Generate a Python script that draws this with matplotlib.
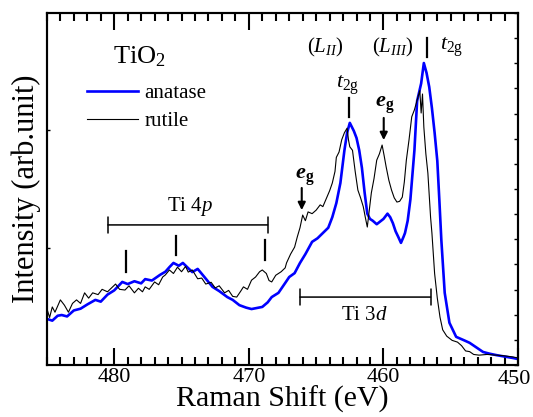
import matplotlib
matplotlib.use("Agg")
import matplotlib.pyplot as plt
from matplotlib.ticker import MultipleLocator, FixedLocator, FixedFormatter
import numpy as np

plt.rcParams["font.family"] = ["Liberation Serif", "DejaVu Serif"]
plt.rcParams["mathtext.fontset"] = "custom"
plt.rcParams["mathtext.rm"] = "Liberation Serif"
plt.rcParams["mathtext.it"] = "Liberation Serif:italic"
plt.rcParams["mathtext.bf"] = "Liberation Serif:bold"
plt.rcParams["mathtext.bfit"] = "Liberation Serif:italic:bold"

# anatase spectrum (eV, arb. intensity)
anatase_ev = [485.0, 484.6, 484.2, 483.9, 483.5, 483.0, 482.5, 482.0, 481.4, 481.0,
              480.5, 480.0, 479.4, 479.0, 478.5, 478.0, 477.7, 477.2, 476.6, 476.2,
              475.9, 475.6, 475.2, 474.9, 474.5, 474.2, 473.8, 473.3, 472.7, 472.2,
              471.6, 471.2, 470.7, 470.2, 469.8, 469.4, 469.0, 468.6, 468.3, 467.8,
              467.3, 467.0, 466.6, 466.2, 465.8, 465.3, 464.9, 464.5, 464.1, 463.8,
              463.5, 463.2, 462.9, 462.7, 462.5, 462.2, 462.0, 461.8, 461.6, 461.4,
              461.2, 461.0, 460.8, 460.5, 460.3, 460.0, 459.7, 459.5, 459.3, 459.1,
              458.9, 458.7, 458.5, 458.4, 458.2, 458.0, 457.85, 457.7, 457.5, 457.2,
              457.0, 456.8, 456.6, 456.4, 456.2, 456.0, 455.85, 455.7, 455.45, 455.1,
              454.6, 454.0, 453.6, 453.1, 452.6, 452.1, 451.6, 451.0, 450.4, 450.0]
anatase_int = [13.1, 12.6, 14.0, 14.2, 13.8, 15.5, 16.0, 17.2, 18.5, 18.0,
               20.0, 21.2, 23.6, 23.0, 23.8, 23.2, 24.4, 24.0, 25.6, 26.5,
               27.8, 29.0, 28.2, 29.0, 27.5, 26.4, 27.3, 25.0, 22.2, 21.0,
               19.3, 18.5, 17.0, 16.3, 15.9, 16.2, 16.5, 17.8, 19.3, 20.5,
               23.3, 25.0, 26.1, 29.0, 31.5, 35.0, 36.0, 37.5, 39.0, 42.0,
               46.0, 51.7, 61.0, 66.0, 68.8, 66.5, 64.5, 61.0, 56.0, 49.0,
               43.0, 41.5, 41.0, 40.0, 40.6, 41.5, 43.0, 42.0, 40.3, 38.0,
               36.4, 34.7, 36.5, 37.5, 41.0, 47.0, 54.0, 61.0, 75.0, 80.0,
               85.8, 83.0, 79.0, 73.0, 66.0, 58.0, 47.0, 35.5, 20.5, 12.0,
               8.0, 7.0, 6.3, 5.0, 3.7, 3.2, 2.8, 2.4, 2.0, 1.7]

# rutile spectrum (eV, arb. intensity)
rutile_ev = [485.0, 484.8, 484.6, 484.4, 484.0, 483.7, 483.4, 483.1, 482.8, 482.5,
             482.2, 481.9, 481.6, 481.2, 480.9, 480.5, 480.2, 479.9, 479.6, 479.2,
             478.9, 478.5, 478.2, 477.9, 477.7, 477.4, 477.0, 476.7, 476.4, 476.2,
             475.9, 475.6, 475.3, 475.0, 474.7, 474.5, 474.2, 473.8, 473.5, 473.2,
             472.8, 472.5, 472.2, 471.8, 471.5, 471.2, 470.9, 470.6, 470.4, 470.1,
             469.8, 469.5, 469.2, 469.0, 468.7, 468.5, 468.3, 468.0, 467.6, 467.3,
             467.2, 466.9, 466.6, 466.4, 466.2, 466.0, 465.8, 465.6, 465.3, 465.0,
             464.7, 464.5, 464.2, 464.0, 463.8, 463.6, 463.5, 463.3, 463.1, 462.9,
             462.7, 462.6, 462.5, 462.3, 462.1, 461.9, 461.7, 461.5, 461.35, 461.2,
             461.05, 460.9, 460.7, 460.5, 460.3, 460.1, 459.95, 459.8, 459.6, 459.4,
             459.2, 459.0, 458.8, 458.6, 458.45, 458.3, 458.1, 457.9, 457.7, 457.5,
             457.3, 457.2, 457.1, 457.0, 456.85, 456.7, 456.5, 456.4, 456.2, 456.0,
             455.8, 455.6, 455.3, 454.9, 454.5, 454.2, 453.9, 453.6, 453.3, 452.9,
             452.3, 451.6, 451.0, 450.4, 450.0]
rutile_int = [16.0, 13.5, 16.5, 15.0, 18.5, 17.0, 15.0, 17.5, 18.5, 17.5,
              20.5, 19.0, 20.5, 20.0, 21.5, 20.8, 21.9, 23.0, 21.5, 21.3,
              22.5, 20.5, 21.8, 20.8, 22.2, 21.5, 23.6, 22.8, 25.0, 25.6,
              27.0, 26.0, 27.8, 26.5, 28.0, 26.4, 27.0, 24.5, 24.7, 23.0,
              23.5, 21.9, 22.5, 20.5, 21.2, 19.5, 19.3, 21.0, 22.2, 21.5,
              24.1, 25.0, 26.5, 27.0, 26.0, 24.0, 23.6, 25.5, 26.5, 27.6,
              29.0, 31.5, 33.5, 36.4, 39.0, 42.6, 41.0, 43.5, 43.0, 44.0,
              45.5, 45.0, 47.7, 49.5, 51.7, 55.0, 59.0, 60.5, 64.0, 66.0,
              67.3, 64.0, 62.0, 61.0, 55.0, 49.7, 47.5, 45.0, 42.0, 39.2,
              44.0, 48.9, 53.0, 58.2, 60.0, 62.5, 59.5, 56.3, 52.5, 49.7,
              47.5, 46.3, 46.5, 47.7, 52.0, 58.2, 64.0, 70.5, 72.5, 75.3,
              78.0, 71.6, 77.0, 67.6, 60.0, 54.5, 42.0, 37.5, 26.0, 19.0,
              13.6, 10.0, 8.2, 7.0, 6.5, 5.5, 4.0, 3.8, 3.0, 2.8,
              3.0, 2.8, 2.6, 2.3, 2.0]

x_ticks = [480, 470, 460, 450]
x_ticklabels = ["480", "470", "460", "450"]

fig = plt.figure(figsize=(5.33, 4.17), dpi=100)
ax = fig.add_axes([0.088, 0.1247, 0.884, 0.844])

ax.plot(anatase_ev, anatase_int, color="#0000ff", lw=1.9, label="anatase", zorder=3)
ax.plot(rutile_ev, rutile_int, color="black", lw=0.8, label="rutile", zorder=4)

ax.set_xlim(485, 450)
ax.set_ylim(0, 100)

# last label is drawn separately, nudged left so it stays on the canvas
ax.xaxis.set_major_locator(FixedLocator(x_ticks))
ax.xaxis.set_major_formatter(FixedFormatter(x_ticklabels[:-1] + [""]))
ax.xaxis.set_minor_locator(MultipleLocator(1))
ax.tick_params(axis="x", which="major", direction="in", length=12, width=1.5,
               top=True, labelsize=16, pad=2)
ax.tick_params(axis="x", which="minor", direction="in", length=6, width=1.5, top=True)
ax.annotate(x_ticklabels[-1], xy=(x_ticks[-1], 0), xycoords=("data", "axes fraction"),
            xytext=(-2.5, -2 - 1.5), textcoords="offset points",
            ha="center", va="top", fontsize=16)

ax.set_yticks([100 / 3, 200 / 3])
ax.tick_params(axis="y", which="major", direction="in", length=2, width=1,
               labelleft=False, right=False)
for s in ax.spines.values():
    s.set_linewidth(1.5)

ax2 = ax.twinx()
ax2.set_ylim(0, 100)
ax2.set_yticks(np.linspace(0, 100, 15))
ax2.tick_params(axis="y", direction="in", length=3, width=1, labelright=False)
for s in ax2.spines.values():
    s.set_linewidth(1.5)

ax.set_xlabel("Raman Shift (eV)", fontsize=21.5, labelpad=-1)
ax.set_ylabel("Intensity (arb.unit)", fontsize=22, labelpad=4)

ax.legend(loc="upper left", bbox_to_anchor=(0.085, 0.799), borderaxespad=0,
          borderpad=0, frameon=False, fontsize=15, handlelength=2.45,
          handletextpad=0.3, labelspacing=0.39)

ax.text(480.1, 87.5, "TiO$_2$", fontsize=19, ha="left", va="center")

# Ti 4p bracket and peak markers
ax.annotate("", xy=(480.47, 39.8), xytext=(468.6, 39.8),
            arrowprops=dict(arrowstyle="|-|", lw=1.1, color="black",
                            mutation_scale=6, shrinkA=0, shrinkB=0))
ax.text(474.4, 44.9, "Ti 4$\\mathit{p}$", fontsize=15, ha="center", va="center")
ax.plot([479.1, 479.1], [26.4, 32.4], color="black", lw=1.6)
ax.plot([475.4, 475.4], [31.3, 36.6], color="black", lw=1.6)
ax.plot([468.8, 468.8], [29.8, 35.5], color="black", lw=1.6)

# Ti 3d bracket
ax.annotate("", xy=(466.2, 19.3), xytext=(456.5, 19.3),
            arrowprops=dict(arrowstyle="|-|", lw=1.1, color="black",
                            mutation_scale=6, shrinkA=0, shrinkB=0))
ax.text(461.4, 14.2, "Ti 3$\\mathit{d}$", fontsize=15, ha="center", va="center")

# e_g arrows
arrow = dict(arrowstyle="-|>", lw=1.5, color="black", mutation_scale=11,
             shrinkA=0, shrinkB=0)
ax.annotate("", xy=(466.07, 44.0), xytext=(466.07, 50.3), arrowprops=arrow)
ax.text(465.85, 53.4, "$\\mathbfit{e}_{\\mathbf{g}}$", fontsize=16,
        ha="center", va="center")
ax.annotate("", xy=(459.98, 63.9), xytext=(459.98, 70.2), arrowprops=arrow)
ax.text(459.9, 73.9, "$\\mathbfit{e}_{\\mathbf{g}}$", fontsize=16,
        ha="center", va="center")

# t2g markers
ax.text(462.65, 79.5, "$\\mathit{t}_{\\mathrm{2g}}$", fontsize=16,
        ha="center", va="center")
ax.plot([462.58, 462.58], [70.5, 75.9], color="black", lw=1.6)
ax.plot([456.8, 456.8], [87.5, 92.9], color="black", lw=1.6)
ax.text(454.9, 90.3, "$\\mathit{t}_{\\mathrm{2g}}$", fontsize=16,
        ha="center", va="center")

ax.text(464.3, 90.3, "($\\mathit{L}_{\\mathit{II}}$)", fontsize=15,
        ha="center", va="center")
ax.text(459.3, 90.3, "($\\mathit{L}_{\\mathit{III}}$)", fontsize=15,
        ha="center", va="center")

fig.savefig("out.png", dpi=100)
